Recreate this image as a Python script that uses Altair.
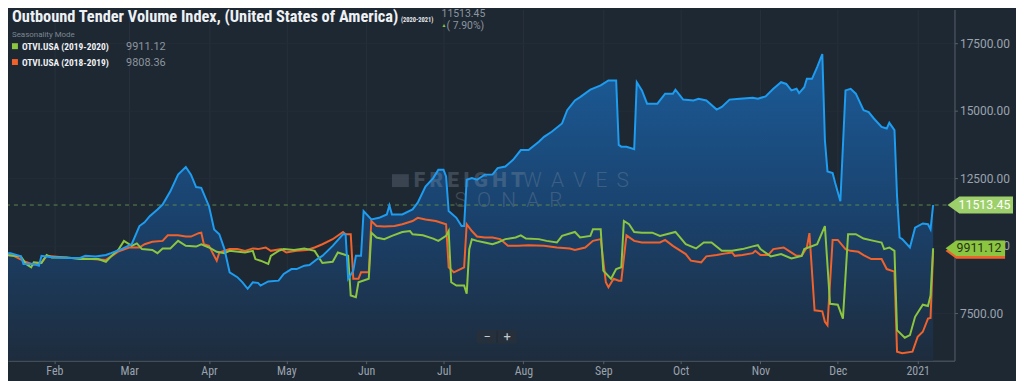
import altair as alt
import pandas as pd

# ---------------- data ----------------
blue_dates = ["2020-01-11","2020-01-15","2020-01-19","2020-01-20","2020-01-24","2020-01-26","2020-01-27","2020-01-31","2020-02-06","2020-02-11","2020-02-13","2020-02-17","2020-02-21","2020-02-23","2020-02-27","2020-03-02","2020-03-05","2020-03-07","2020-03-09","2020-03-12","2020-03-14","2020-03-17","2020-03-20","2020-03-23","2020-03-25","2020-03-27","2020-03-29","2020-04-01","2020-04-03","2020-04-05","2020-04-07","2020-04-09","2020-04-12","2020-04-14","2020-04-16","2020-04-18","2020-04-20","2020-04-21","2020-04-24","2020-04-28","2020-04-30","2020-05-03","2020-05-05","2020-05-08","2020-05-10","2020-05-13","2020-05-15","2020-05-19","2020-05-23","2020-05-24","2020-05-25","2020-05-27","2020-05-28","2020-05-30","2020-05-31","2020-06-03","2020-06-06","2020-06-09","2020-06-10","2020-06-11","2020-06-15","2020-06-19","2020-06-21","2020-06-24","2020-06-27","2020-06-29","2020-07-01","2020-07-02","2020-07-03","2020-07-06","2020-07-08","2020-07-09","2020-07-10","2020-07-12","2020-07-14","2020-07-17","2020-07-20","2020-07-22","2020-07-25","2020-07-28","2020-07-31","2020-08-03","2020-08-07","2020-08-09","2020-08-12","2020-08-16","2020-08-18","2020-08-21","2020-08-23","2020-08-27","2020-08-31","2020-09-03","2020-09-06","2020-09-07","2020-09-08","2020-09-10","2020-09-13","2020-09-14","2020-09-16","2020-09-18","2020-09-22","2020-09-25","2020-09-28","2020-09-29","2020-10-02","2020-10-06","2020-10-08","2020-10-11","2020-10-15","2020-10-17","2020-10-20","2020-10-24","2020-10-29","2020-10-31","2020-11-03","2020-11-06","2020-11-09","2020-11-11","2020-11-13","2020-11-15","2020-11-16","2020-11-18","2020-11-19","2020-11-21","2020-11-23","2020-11-25","2020-11-26","2020-11-27","2020-11-29","2020-11-30","2020-12-02","2020-12-04","2020-12-06","2020-12-08","2020-12-11","2020-12-13","2020-12-15","2020-12-18","2020-12-20","2020-12-21","2020-12-23","2020-12-24","2020-12-25","2020-12-26","2020-12-29","2020-12-31","2021-01-03","2021-01-05","2021-01-06","2021-01-07"]
blue_values = [9730,9730,9610,9330,9330,9265,9630,9580,9550,9550,9630,9610,9660,9730,9880,10060,10735,10870,11100,11350,11530,12020,12640,12920,12640,12180,12150,11470,10610,10430,9880,9020,8840,8650,8410,8650,8630,8530,8680,8710,8960,9140,9140,9265,9290,9510,9630,10000,10430,10430,8780,9080,9630,9630,11290,10980,11040,11165,11500,11165,11165,11350,11600,12200,12510,12820,12820,12570,11290,11040,10735,10735,12450,12510,12450,12640,12640,12880,12940,13190,13550,13550,13860,14040,14230,14535,15025,15390,15510,15790,15945,16130,16130,13740,13675,13675,13580,16065,15760,15270,15270,15640,15640,15790,15420,15390,15450,15390,15050,15150,15420,15450,15490,15455,15540,15820,16065,16000,15760,15820,15660,15880,16190,16190,16620,17110,13920,12760,12700,12330,11655,15760,15820,15640,15025,14960,14720,14410,14350,14560,14290,11840,10310,10250,9940,10675,10830,10800,10615,11513.45]

green_dates = ["2020-01-11","2020-01-16","2020-01-19","2020-01-21","2020-01-23","2020-01-24","2020-01-27","2020-01-29","2020-01-31","2020-02-06","2020-02-11","2020-02-14","2020-02-18","2020-02-21","2020-02-23","2020-02-26","2020-02-28","2020-03-02","2020-03-04","2020-03-06","2020-03-10","2020-03-12","2020-03-14","2020-03-17","2020-03-20","2020-03-23","2020-03-27","2020-03-29","2020-04-01","2020-04-04","2020-04-07","2020-04-09","2020-04-15","2020-04-18","2020-04-19","2020-04-21","2020-04-24","2020-04-25","2020-04-28","2020-04-30","2020-05-04","2020-05-08","2020-05-12","2020-05-14","2020-05-15","2020-05-19","2020-05-21","2020-05-24","2020-05-25","2020-05-26","2020-05-28","2020-05-29","2020-06-02","2020-06-03","2020-06-05","2020-06-08","2020-06-11","2020-06-15","2020-06-18","2020-06-19","2020-06-23","2020-06-27","2020-06-29","2020-07-02","2020-07-03","2020-07-04","2020-07-06","2020-07-09","2020-07-10","2020-07-11","2020-07-12","2020-07-14","2020-07-17","2020-07-20","2020-07-22","2020-07-25","2020-07-29","2020-07-31","2020-08-02","2020-08-07","2020-08-10","2020-08-14","2020-08-16","2020-08-21","2020-08-23","2020-08-27","2020-08-28","2020-08-31","2020-09-01","2020-09-04","2020-09-06","2020-09-08","2020-09-09","2020-09-11","2020-09-13","2020-09-16","2020-09-20","2020-09-23","2020-09-29","2020-10-03","2020-10-07","2020-10-10","2020-10-13","2020-10-17","2020-10-21","2020-10-25","2020-10-29","2020-10-31","2020-11-01","2020-11-05","2020-11-09","2020-11-13","2020-11-17","2020-11-18","2020-11-23","2020-11-26","2020-11-28","2020-12-01","2020-12-03","2020-12-05","2020-12-08","2020-12-11","2020-12-15","2020-12-18","2020-12-19","2020-12-21","2020-12-23","2020-12-24","2020-12-27","2020-12-29","2020-12-31","2021-01-03","2021-01-05","2021-01-06","2021-01-07"]
green_values = [9695,9630,9610,9330,9205,9390,9365,9660,9570,9570,9510,9510,9510,9410,9610,9880,10185,10000,10090,9880,9850,9730,9905,9905,10185,10000,9975,10060,9940,9780,9730,9815,9755,9815,9510,9450,9330,9630,9815,9880,9850,9905,9815,9510,9365,9410,9755,9660,9630,8160,8100,8650,8780,10490,10310,10250,10370,10515,10550,10430,10390,10270,10185,10370,10550,8650,8530,8530,8225,9880,10245,10185,10125,10060,10125,10250,10310,10390,10270,10250,10185,10125,10370,10515,10310,10370,10615,10615,9080,8780,9140,9205,10920,10800,10515,10490,10490,10370,10515,10060,9905,10125,10125,9815,9815,9880,9980,10025,9880,9610,9695,9535,9630,9880,10060,10735,7855,7820,7305,10430,10430,10270,10185,10125,9880,9940,9815,6875,6595,6690,7370,7820,7770,8160,9911.12]

orange_dates = ["2020-01-11","2020-01-16","2020-01-21","2020-01-24","2020-01-27","2020-01-29","2020-02-06","2020-02-14","2020-02-21","2020-02-26","2020-03-01","2020-03-05","2020-03-07","2020-03-10","2020-03-14","2020-03-16","2020-03-20","2020-03-23","2020-03-25","2020-03-28","2020-03-29","2020-03-30","2020-04-01","2020-04-03","2020-04-04","2020-04-05","2020-04-09","2020-04-12","2020-04-15","2020-04-18","2020-04-20","2020-04-23","2020-04-25","2020-04-29","2020-05-01","2020-05-05","2020-05-09","2020-05-12","2020-05-15","2020-05-19","2020-05-23","2020-05-24","2020-05-26","2020-05-27","2020-05-29","2020-05-30","2020-06-02","2020-06-03","2020-06-05","2020-06-08","2020-06-12","2020-06-15","2020-06-19","2020-06-21","2020-06-24","2020-06-28","2020-07-02","2020-07-03","2020-07-05","2020-07-09","2020-07-10","2020-07-12","2020-07-14","2020-07-17","2020-07-20","2020-07-23","2020-07-26","2020-07-30","2020-08-03","2020-08-09","2020-08-14","2020-08-19","2020-08-21","2020-08-25","2020-08-28","2020-08-31","2020-09-02","2020-09-03","2020-09-05","2020-09-07","2020-09-08","2020-09-10","2020-09-13","2020-09-16","2020-09-23","2020-09-25","2020-09-28","2020-10-03","2020-10-05","2020-10-09","2020-10-11","2020-10-15","2020-10-19","2020-10-21","2020-10-22","2020-10-25","2020-10-29","2020-10-30","2020-11-01","2020-11-04","2020-11-06","2020-11-10","2020-11-12","2020-11-15","2020-11-17","2020-11-19","2020-11-20","2020-11-22","2020-11-25","2020-11-26","2020-11-27","2020-11-29","2020-12-01","2020-12-04","2020-12-06","2020-12-09","2020-12-11","2020-12-14","2020-12-18","2020-12-20","2020-12-23","2020-12-24","2020-12-26","2020-12-30","2021-01-01","2021-01-03","2021-01-05","2021-01-06","2021-01-07"]
orange_values = [9690,9640,9400,9300,9380,9630,9560,9520,9480,9800,9940,9940,10060,10150,10185,10390,10390,10345,10345,10470,10490,10060,10000,9630,9450,9755,9880,9880,9815,9905,9880,9940,9815,9880,9755,9815,9850,9940,10060,10245,10515,10430,10430,8780,8780,9020,9020,10920,10735,10715,10735,10800,10920,11040,10980,10920,10800,9205,9020,9205,10800,10550,10345,10310,10310,10250,10000,10000,10025,10000,9940,9905,9850,9940,10185,10250,8650,8470,8780,8710,8710,10390,10185,10125,10125,10220,10000,9695,9450,9390,9610,9660,9730,9755,9630,9660,9730,9815,9660,9660,9880,9940,9815,9630,9630,9940,10470,7610,7575,7185,7060,10220,10220,9880,9815,9780,9660,9510,9510,9140,9045,6080,6020,6080,6630,6815,7305,7330,9808.36]

y_ticks = [7500, 10000, 12500, 15000, 17500]
month_ticks = [(2020, m) for m in range(2, 13)] + [(2021, 1)]

title_text = "Outbound Tender Volume Index, (United States of America)"
series_names = ["OTVI.USA (2019-2020)", "OTVI.USA (2018-2019)"]
last_values = {"2020-2021": 11513.45, "2019-2020": 9911.12, "2018-2019": 9808.36}
change_text = "( 7.90%)"

# ---------------- styling ----------------
BG = "#1e2833"
BLUE = "#1e9cf0"
GREEN = "#8cc540"
ORANGE = "#f0622c"
GREY = "#9aa3ad"
COND = "Liberation Sans Narrow, Roboto Condensed, Roboto, sans-serif"

W, H = 954, 354
Y_DOM = [5745, 18760]
x_scale = alt.Scale(type="utc",
                    domain=[alt.DateTime(year=2020, month=1, date=14, utc=True),
                            alt.DateTime(year=2021, month=1, date=15, hours=7, utc=True)])
y_scale = alt.Scale(domain=Y_DOM, zero=False, nice=False)

blue_df = pd.DataFrame({"date": blue_dates, "value": blue_values})
green_df = pd.DataFrame({"date": green_dates, "value": green_values})
orange_df = pd.DataFrame({"date": orange_dates, "value": orange_values})
one = pd.DataFrame({"k": [0]})  # single row for annotations

x_enc = alt.X("date:T", scale=x_scale,
              axis=alt.Axis(values=[alt.DateTime(year=yy, month=mm, date=1, utc=True) for yy, mm in month_ticks],
                            labelExpr="utcFormat(datum.value, '%m') == '01' ? utcFormat(datum.value, '%Y') : utcFormat(datum.value, '%b')",
                            title=None, grid=True, gridColor="#27313c", gridWidth=1,
                            domainColor="#56606b", tickColor="#56606b", tickSize=3,
                            labelColor=GREY, labelFont=COND, labelFontSize=12, labelPadding=2))
y_enc = alt.Y("value:Q", scale=y_scale,
              axis=alt.Axis(orient="right", values=y_ticks, format=".2f", title=None,
                            grid=True, gridColor="#232d38", domainColor="#56606b",
                            tickColor="#56606b", tickSize=3, labelPadding=2,
                            labelColor=GREY, labelFont="Roboto", labelFontSize=12))

area = alt.Chart(blue_df).mark_area(
    clip=True,
    color=alt.Gradient(gradient="linear", x1=0, x2=0, y1=0, y2=1,
                       stops=[alt.GradientStop(color="#1b5c99", offset=0),
                              alt.GradientStop(color="#1a436f", offset=0.5),
                              alt.GradientStop(color="#1e2c3d", offset=1)])
).encode(x=x_enc, y=y_enc, y2=alt.Y2(datum=Y_DOM[0]))

orange_line = alt.Chart(orange_df).mark_line(clip=True, color=ORANGE, strokeWidth=2).encode(
    x="date:T", y="value:Q")
green_line = alt.Chart(green_df).mark_line(clip=True, color=GREEN, strokeWidth=2).encode(
    x="date:T", y="value:Q")
blue_line = alt.Chart(blue_df).mark_line(clip=True, color=BLUE, strokeWidth=2).encode(
    x="date:T", y="value:Q")

last_rule = alt.Chart(one).mark_rule(color="#5f8a4c", strokeDash=[4, 4], strokeWidth=1).encode(
    y=alt.datum(last_values["2020-2021"]))


def txt(text, x, y, size, color, weight="normal", font="Roboto", align="left", opacity=1.0):
    return alt.Chart(one).mark_text(
        text=text, align=align, baseline="alphabetic", fontSize=size, color=color,
        fontWeight=weight, font=font, opacity=opacity
    ).encode(x=alt.value(x), y=alt.value(y))


# Watermark (spaced lettering; non-collapsing spaces)
wm_color = "#8a97a6"
NB = "\u00a0"
watermark = [
    txt("\u2009".join("FREIGHT"), 409, 179, 21, wm_color, weight=900, font="Roboto", opacity=0.3),
    txt((NB + "\u2009").join("WAVES"), 519, 179, 21, wm_color, weight=300, font="Roboto", opacity=0.3),
    txt((NB + NB).join("SONAR"), 450, 199, 21, wm_color, weight=300, font="Roboto", opacity=0.3),
    alt.Chart(one).mark_rect(color=wm_color, opacity=0.25).encode(
        x=alt.value(387), x2=alt.value(404), y=alt.value(166), y2=alt.value(179)),
]

# Header texts
header = [
    txt(title_text, 4, 13, 16.5, "#eef1f4", weight="bold", font=COND),
    txt("(2020-2021)", 396, 13, 6.5, "#e6e9ec", weight="bold", font=COND),
    txt("11513.45", 437, 8, 10.5, "#8d959e"),
    txt("\u25b2", 437, 18, 5, GREEN),
    txt(change_text, 442, 20, 10.5, "#8d959e"),
    txt("Seasonality Mode", 4, 28, 8, "#7c8690"),
    alt.Chart(one).mark_rect(color=GREEN).encode(
        x=alt.value(4), x2=alt.value(10), y=alt.value(34), y2=alt.value(40)),
    txt(series_names[0], 14, 41, 9.5, "#eef1f4", weight="bold", font=COND),
    txt(f"{last_values['2019-2020']:.2f}", 119, 41, 11, "#8d959e"),
    alt.Chart(one).mark_rect(color=ORANGE).encode(
        x=alt.value(4), x2=alt.value(10), y=alt.value(50), y2=alt.value(56)),
    txt(series_names[1], 14, 57, 9.5, "#eef1f4", weight="bold", font=COND),
    txt(f"{last_values['2018-2019']:.2f}", 119, 57, 11, "#8d959e"),
]

# Zoom buttons
buttons = [
    alt.Chart(one).mark_rect(color="#25303c", cornerRadius=2).encode(
        x=alt.value(472), x2=alt.value(513), y=alt.value(323), y2=alt.value(337)),
    alt.Chart(one).mark_rule(color="#1e2833").encode(
        x=alt.value(493), y=alt.value(324), y2=alt.value(336)),
    txt("\u2212", 483, 334, 13, "#c3c9cf", align="center"),
    txt("+", 503, 334, 13, "#c3c9cf", align="center"),
]

# Last value badges on the right
BOX_PATH = "M-1,0L-0.64,-0.26L1,-0.26L1,0.26L-0.64,0.26Z"


def badge(value, fill, size, xc):
    return alt.Chart(one).mark_point(
        shape=BOX_PATH, filled=True, fill=fill, opacity=1, size=size, strokeWidth=0
    ).encode(x=alt.value(xc), y=alt.datum(value))


def badge_text(value, color, x):
    return alt.Chart(one).mark_text(
        text=f"{value:.2f}", align="left", baseline="middle", fontSize=12.5,
        font="Roboto", color=color
    ).encode(x=alt.value(x), y=alt.datum(value))


badges = [
    badge(last_values["2020-2021"], "#9dd06a", 66 ** 2, 980),
    badge_text(last_values["2020-2021"], "#ffffff", 958),
    badge(last_values["2018-2019"], ORANGE, 60 ** 2, 975),
    badge(last_values["2019-2020"], GREEN, 60 ** 2, 975),
    badge_text(last_values["2019-2020"], "#25331b", 956),
]

chart = alt.layer(
    area, *watermark, last_rule, orange_line, green_line, blue_line,
    *header, *buttons, *badges
).properties(
    width=W, height=H, background=BG,
    autosize=alt.AutoSizeParams(type="none"),
    padding={"left": 0, "top": 0, "right": 62, "bottom": 19}
).configure_view(stroke=None)

chart.save("out.html", embed_options={"renderer": "svg", "actions": False})
